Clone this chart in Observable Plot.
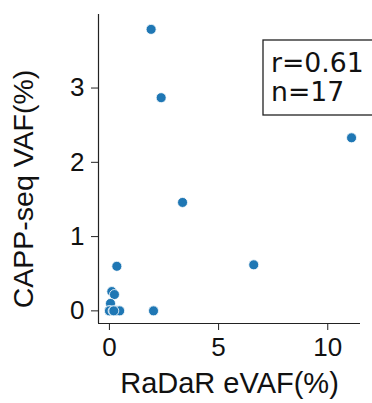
<!DOCTYPE html>
<html>
<head>
<meta charset="utf-8">
<script src="https://cdn.jsdelivr.net/npm/d3@7"></script>
<script src="https://cdn.jsdelivr.net/npm/@observablehq/plot@0.6"></script>
<style>
  html, body { margin: 0; padding: 0; background: #fff; }
  #chart { width: 372px; height: 403px; overflow: hidden; }
</style>
</head>
<body>
<div id="chart"></div>
<script>
// Data
const radarEVAF = [1.91, 2.37, 3.35, 11.09, 6.61, 0.34, 2.02, 0.11, 0.23, 0.05, 0, 0, 0, 0.17, 0.32, 0.47, 0.20];
const cappVAF   = [3.79, 2.87, 1.46, 2.33, 0.62, 0.60, 0.00, 0.26, 0.22, 0.10, 0, 0, 0, 0.00, 0.00, 0.00, 0.00];
const xTicks = [0, 5, 10];
const yTicks = [0, 1, 2, 3];
const xDomain = [-0.5, 11.5];
const yDomain = [-0.17, 3.99];
const statLines = ["r=0.61", "n=17"];
const xLabel = "RaDaR eVAF(%)";
const yLabel = "CAPP-seq VAF(%)";

const data = radarEVAF.map((x, i) => ({x, y: cappVAF[i]}));
const font = "'Liberation Sans', Arial, sans-serif";
const boxFont = "'DejaVu Sans', sans-serif";

const plot = Plot.plot({
  width: 372,
  height: 403,
  marginLeft: 98,
  marginRight: 12,
  marginTop: 14,
  marginBottom: 80,
  style: {fontFamily: font, color: "#111", background: "#fff"},
  x: {domain: xDomain},
  y: {domain: yDomain},
  marks: [
    Plot.axisX({ticks: xTicks, tickFormat: d => String(d), tickSize: 7, tickPadding: 7, fontSize: 26, label: null, stroke: "#222"}),
    Plot.axisY({ticks: yTicks, tickFormat: d => String(d), tickSize: 7, tickPadding: 7, fontSize: 26, label: null, stroke: "#222"}),
    Plot.ruleX([xDomain[0]], {stroke: "#222", strokeWidth: 1.2}),
    Plot.ruleY([yDomain[0]], {stroke: "#222", strokeWidth: 1.2}),
    Plot.dot(data, {x: "x", y: "y", r: 5, fill: "#1f77b4", stroke: "#fff", strokeWidth: 0.8}),
    Plot.text([xLabel], {frameAnchor: "bottom", dy: 69, fontSize: 29, fill: "#111", lineAnchor: "bottom", textAnchor: "middle"}),
    Plot.text([yLabel], {frameAnchor: "left", dx: -75, dy: 20, rotate: -90, fontSize: 28.5, fill: "#111", textAnchor: "middle", lineAnchor: "middle"})
  ]
});

const svg = d3.select(plot);
const g = svg.append("g").attr("text-anchor", "start");
g.append("rect")
  .attr("x", 263).attr("y", 40).attr("width", 130).attr("height", 75)
  .attr("fill", "#fff").attr("stroke", "#222").attr("stroke-width", 1.3);
g.selectAll("text.stat").data(statLines).join("text")
  .attr("class", "stat")
  .attr("x", 271)
  .attr("y", (d, i) => 72 + i * 29)
  .attr("font-size", 26.7)
  .attr("font-family", boxFont)
  .attr("fill", "#111")
  .attr("text-anchor", "start")
  .text(d => d);

document.getElementById("chart").appendChild(plot);
</script>
</body>
</html>
